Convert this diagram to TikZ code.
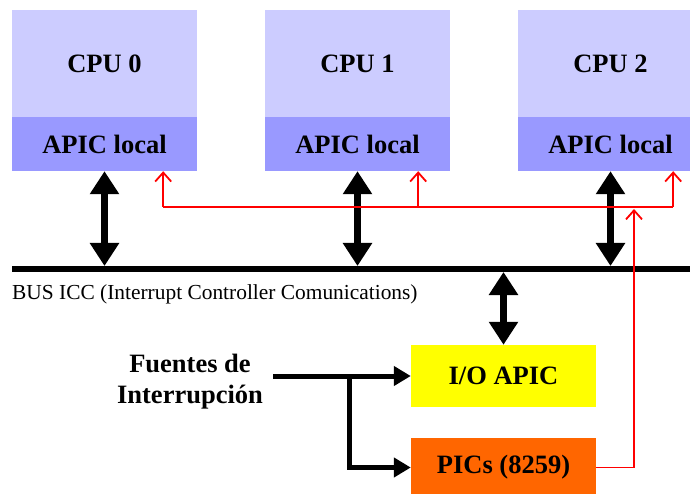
\documentclass[tikz,border=0pt]{standalone}
\usepackage{fontspec}
\setmainfont{Liberation Serif}
\usetikzlibrary{arrows.meta,positioning,calc}
\definecolor{cpufill}{HTML}{CCCCFF}
\definecolor{apicfill}{HTML}{9999FF}
\definecolor{iofill}{HTML}{FFFF00}
\definecolor{picfill}{HTML}{FF6600}
\tikzset{
  cpubox/.style={fill=cpufill, minimum width=185pt, minimum height=107pt,
    inner sep=0pt, font=\fontsize{26.5}{30}\selectfont\bfseries},
  apicbox/.style={fill=apicfill, minimum width=185pt, minimum height=54pt,
    inner sep=0pt, font=\fontsize{26.5}{30}\selectfont\bfseries},
  devbox/.style={minimum width=185pt, minimum height=62pt,
    inner sep=0pt, font=\fontsize{26.5}{30}\selectfont\bfseries},
  busline/.style={line width=6pt},
  busarrow/.style={line width=7pt,
    {Triangle[width=28pt,length=23pt]}-{Triangle[width=28pt,length=23pt]}},
  feedarrow/.style={line width=5pt, -{Triangle[width=19pt,length=17pt]}},
  irqline/.style={red, line width=1.8pt},
  irqtip/.style={-{Straight Barb[width=16pt,length=9pt,line width=1.8pt]}},
}
\begin{document}
\begin{tikzpicture}[x=1pt,y=-1pt]
\useasboundingbox (0,0) rectangle (690,494);

% processors with their local APICs
\foreach \i/\x in {0/104.5, 1/357.5, 2/610.5}{
  \node[cpubox]  (cpu\i)  at (\x,63.5) {CPU \i};
  \node[apicbox] (apic\i) at (\x,144) {APIC local};
}

% I/O side
\node[devbox, fill=iofill]  (io)  at (503.5,376) {I/O APIC};
\node[devbox, fill=picfill, minimum height=60pt] (pic) at (503.5,467.5) {PICs (8259)};
\node[align=center, inner sep=0pt, font=\fontsize{26.5}{31}\selectfont\bfseries]
  (src) at (190,382) {Fuentes de\\Interrupción};

% ICC bus
\coordinate (busL) at (12,269);
\coordinate (busR) at (690,269);
\draw[busline] (busL) -- (busR);
\node[anchor=west, inner sep=0pt, font=\fontsize{21.4}{24}\selectfont]
  (buslabel) at (12,294) {BUS ICC (Interrupt Controller Comunications)};

% bus connections
\foreach \i in {0,1,2}{
  \draw[busarrow] (apic\i.south) -- (apic\i.south |- 0,266);
}
\draw[busarrow] (io.north |- 0,272) -- (io.north);

% interrupt sources
\coordinate (s0) at (273,376);
\coordinate (br) at (349,376);
\draw[feedarrow] (s0) -- (io.west);
\draw[feedarrow] (br) |- (pic.west);

% red interrupt lines from the PICs to the local APICs
\coordinate (t0) at ([xshift=-34pt]apic0.south east);
\coordinate (t1) at ([xshift=-32pt]apic1.south east);
\coordinate (t2) at ([xshift=-30pt]apic2.south east);
\coordinate (hl) at (400,207);
\draw[irqline, irqtip] (hl -| t0) -- (t0);
\draw[irqline, irqtip] (hl -| t1) -- (t1);
\draw[irqline, irqtip] (hl -| t2) -- (t2);
\draw[irqline] (hl -| t0) -- (hl -| t2);
\coordinate (up) at (634,209);
\draw[irqline, irqtip] (pic.east) -| (up);
\end{tikzpicture}
\end{document}
